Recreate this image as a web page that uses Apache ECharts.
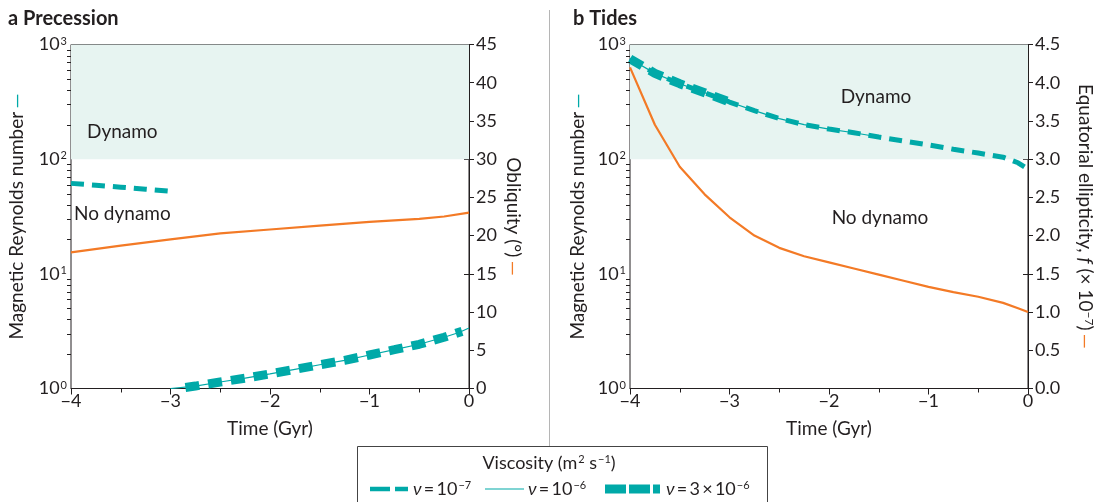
<!DOCTYPE html>
<html><head><meta charset="utf-8">
<script src="https://cdn.jsdelivr.net/npm/echarts@6/dist/echarts.min.js"></script>
<style>html,body{margin:0;padding:0;background:#fff}#c{width:1098px;height:502px}</style>
</head><body><div id="c"></div>
<script>
// ---- Panel a: Precession ----
const precTimeE7 = [-4, -3.75, -3.5, -3.25, -3.0];
const precRmE7 = [61.5, 59.3, 57, 54.7, 52.4];
const precTimeE6 = [-3.0, -2.75, -2.5, -2.25, -2.0, -1.75, -1.5, -1.25, -1.0, -0.75, -0.5, -0.25, -0.1, 0];
const precRmE6 = [1.0, 1.05, 1.14, 1.23, 1.34, 1.47, 1.61, 1.76, 1.96, 2.18, 2.43, 2.8, 3.08, 3.37];
const precTime3E6 = [-2.85, -2.75, -2.5, -2.25, -2.0, -1.75, -1.5, -1.25, -1.0, -0.75, -0.5, -0.25, -0.07];
const precRm3E6 = [1.02, 1.05, 1.14, 1.23, 1.34, 1.47, 1.61, 1.76, 1.96, 2.18, 2.43, 2.8, 3.15];
const precTimeObl = [-4, -3.5, -3, -2.5, -2, -1.5, -1, -0.5, -0.25, 0];
const precObliquity = [17.8, 18.7, 19.5, 20.3, 20.8, 21.3, 21.8, 22.2, 22.5, 23.0];

// ---- Panel b: Tides ----
const tideTimeE7 = [-4, -3.75, -3.5, -3.25, -3, -2.75, -2.5, -2.25, -2, -1.75, -1.5, -1.25, -1, -0.75, -0.5, -0.25, -0.1, 0];
const tideRmE7 = [750, 560, 455, 380, 315, 265, 226, 200, 183, 170, 156, 144, 133, 122, 113, 104, 93, 82];
const tideTimeE6 = [-4, -3.75, -3.5, -3.25, -3, -2.75, -2.5, -2.25, -2, -1.75, -1.5];
const tideRmE6 = [750, 560, 455, 380, 315, 265, 226, 200, 183, 170, 156];
const tideTime3E6 = [-4, -3.75, -3.5, -3.25, -3];
const tideRm3E6 = [750, 560, 455, 380, 315];
const tideTimeEll = [-4, -3.75, -3.5, -3.25, -3, -2.75, -2.5, -2.25, -2, -1.75, -1.5, -1.25, -1, -0.75, -0.5, -0.25, -0.1, 0];
const tideEllipticity = [4.2, 3.45, 2.9, 2.54, 2.24, 2.0, 1.84, 1.73, 1.65, 1.57, 1.49, 1.41, 1.33, 1.26, 1.2, 1.12, 1.05, 1.0];

// ---- axis ticks ----
const xTickMin = -4, xTickMax = 0, xTickStep = 1;
const logMinorTicks = [2,3,4,5,6,7,8,9,20,30,40,50,60,70,80,90,200,300,400,500,600,700,800,900];
const oblMax = 45, oblStep = 5;
const ellMax = 4.5, ellStep = 0.5;
const dynamoThreshold = 100, rmMax = 1000, rmMin = 1;

const teal = '#00a9a8', orange = '#f37a26', ink = '#231f20';
const FONT = 'Lato';
const zip = (a, b) => a.map((v, i) => [v, b[i]]);

const supRich = {
  n: {fontSize: 18, color: ink, fontFamily: FONT},
  s: {fontSize: 11, color: ink, fontFamily: FONT, padding: [0,0,7,1]}
};
const nameRich = (col) => ({
  n: {fontSize: 19, color: ink, fontFamily: FONT},
  i: {fontSize: 19, color: ink, fontFamily: FONT, fontStyle: 'italic'},
  s: {fontSize: 12, color: ink, fontFamily: FONT, padding: [0,0,8,0]},
  d: {fontSize: 19, color: col, fontFamily: FONT}
});

function xAxisDef(gi) {
  return {
    gridIndex: gi, type: 'value', min: xTickMin, max: xTickMax, interval: xTickStep,
    name: 'Time (Gyr)', nameLocation: 'middle', nameGap: 31,
    nameTextStyle: {fontSize: 19, color: ink, fontFamily: FONT},
    axisLine: {lineStyle: {color: ink, width: 1}},
    axisTick: {length: 6, lineStyle: {color: ink}},
    minorTick: {show: true, splitNumber: 2, length: 4, lineStyle: {color: ink}},
    splitLine: {show: false},
    axisLabel: {fontSize: 18, color: ink, fontFamily: FONT, margin: 4,
      formatter: v => (v < 0 ? '\u2212' + Math.abs(v) : String(v))}
  };
}
function logAxisDef(gi, gap) {
  return {
    gridIndex: gi, type: 'log', logBase: 10, min: rmMin, max: rmMax, position: 'left',
    name: '{n|Magnetic Reynolds number} {d|\u2014}', nameLocation: 'middle', nameGap: gap,
    nameTextStyle: {rich: nameRich(teal)},
    axisLine: {lineStyle: {color: ink}},
    axisTick: {length: 5, lineStyle: {color: ink}},
    splitLine: {show: false},
    axisLabel: {margin: 4, formatter: v => '{n|10}{s|' + Math.round(Math.log10(v)) + '}', rich: supRich}
  };
}
function minorTickSeries(xi, yi) {
  return {
    type: 'custom', xAxisIndex: xi, yAxisIndex: yi, clip: false, silent: true, z: 10,
    data: logMinorTicks.map(v => [xTickMin, v]),
    renderItem: (params, api) => {
      const p = api.coord([api.value(0), api.value(1)]);
      const y = Math.round(p[1]) + 0.5;
      return {type: 'line', shape: {x1: p[0] - 4, y1: y, x2: p[0], y2: y},
        style: {stroke: ink, lineWidth: 1}};
    }
  };
}
const labelText = (txt, x, y, align) => ({type: 'text', x: x, y: y, z: 100,
  style: {text: txt, font: '19px ' + FONT, fill: ink, textAlign: align, textVerticalAlign: 'middle'}});
const legRich = {v: {fontSize: 18, fontFamily: FONT, fontStyle: 'italic', fill: ink},
  n: {fontSize: 18, fontFamily: FONT, fill: ink},
  s: {fontSize: 11, fontFamily: FONT, fill: ink, padding: [0,0,8,1]}};

const option = {
  animation: false,
  grid: [
    {left: 71, top: 44.5, width: 398, height: 344, show: true, borderColor: ink, borderWidth: 1},
    {left: 630, top: 44.5, width: 398, height: 344, show: true, borderColor: ink, borderWidth: 1}
  ],
  xAxis: [xAxisDef(0), xAxisDef(1)],
  yAxis: [
    logAxisDef(0, 45),
    {gridIndex: 0, type: 'value', min: 0, max: oblMax, interval: oblStep, position: 'right',
      name: '{n|Obliquity (\u00b0)} {d|\u2014}', nameLocation: 'middle', nameGap: 35, nameRotate: -90,
      nameTextStyle: {rich: nameRich(orange)},
      axisLine: {lineStyle: {color: ink}}, axisTick: {length: 5, lineStyle: {color: ink}},
      splitLine: {show: false},
      axisLabel: {fontSize: 18, color: ink, fontFamily: FONT, margin: 7}},
    logAxisDef(1, 43),
    {gridIndex: 1, type: 'value', min: 0, max: ellMax, interval: ellStep, position: 'right',
      name: '{n|Equatorial ellipticity, }{i|f}{n| (\u00d7 10}{s|\u22127}{n|)} {d|\u2014}',
      nameLocation: 'middle', nameGap: 47, nameRotate: -90,
      nameTextStyle: {rich: nameRich(orange)},
      axisLine: {lineStyle: {color: ink}}, axisTick: {length: 5, lineStyle: {color: ink}},
      splitLine: {show: false},
      axisLabel: {fontSize: 18, color: ink, fontFamily: FONT, margin: 7, formatter: v => v.toFixed(1)}}
  ],
  series: [
    // panel a
    {type: 'line', xAxisIndex: 0, yAxisIndex: 0, data: zip(precTimeE7, precRmE7), showSymbol: false, z: 3,
      lineStyle: {color: teal, width: 5, type: [13, 8]},
      markArea: {silent: true, itemStyle: {color: '#e7f4f1'}, data: [[{yAxis: dynamoThreshold}, {yAxis: rmMax}]]}},
    {type: 'line', xAxisIndex: 0, yAxisIndex: 0, data: zip(precTimeE6, precRmE6), showSymbol: false, z: 3,
      lineStyle: {color: teal, width: 1.2}},
    {type: 'line', xAxisIndex: 0, yAxisIndex: 0, data: zip(precTime3E6, precRm3E6), showSymbol: false, z: 3,
      lineStyle: {color: teal, width: 9, type: [14, 9]}},
    {type: 'line', xAxisIndex: 0, yAxisIndex: 1, data: zip(precTimeObl, precObliquity), showSymbol: false, z: 3,
      lineStyle: {color: orange, width: 2.2}},
    minorTickSeries(0, 0),
    // panel b
    {type: 'line', xAxisIndex: 1, yAxisIndex: 2, data: zip(tideTimeE7, tideRmE7), showSymbol: false, z: 3,
      lineStyle: {color: teal, width: 5, type: [13, 8]},
      markArea: {silent: true, itemStyle: {color: '#e7f4f1'}, data: [[{yAxis: dynamoThreshold}, {yAxis: rmMax}]]}},
    {type: 'line', xAxisIndex: 1, yAxisIndex: 2, data: zip(tideTimeE6, tideRmE6), showSymbol: false, z: 3,
      lineStyle: {color: teal, width: 1.2}},
    {type: 'line', xAxisIndex: 1, yAxisIndex: 2, data: zip(tideTime3E6, tideRm3E6), showSymbol: false, z: 3,
      lineStyle: {color: teal, width: 9, type: [14, 9]}},
    {type: 'line', xAxisIndex: 1, yAxisIndex: 3, data: zip(tideTimeEll, tideEllipticity), showSymbol: false, z: 3,
      lineStyle: {color: orange, width: 2.2}},
    minorTickSeries(1, 2)
  ],
  graphic: [
    {type: 'text', left: 8, top: 9, z: 100, style: {text: 'a Precession', font: 'bold 20px ' + FONT, fill: ink}},
    {type: 'text', left: 573, top: 9, z: 100, style: {text: 'b Tides', font: 'bold 20px ' + FONT, fill: ink}},
    {type: 'line', z: 100, shape: {x1: 549.5, y1: 10, x2: 549.5, y2: 446}, style: {stroke: '#b5b5b5', lineWidth: 1}},
    labelText('Dynamo', 87, 132, 'left'),
    labelText('No dynamo', 74, 214, 'left'),
    labelText('Dynamo', 876, 97, 'center'),
    labelText('No dynamo', 880, 218, 'center'),
    // legend box
    {type: 'rect', z: 100, shape: {x: 357.5, y: 446.5, width: 410, height: 70}, style: {fill: '#fff', stroke: '#444', lineWidth: 1}},
    {type: 'text', z: 101, x: 549, y: 463, style: {text: '{n|Viscosity (m}{s|2}{n| s}{s|\u22121}{n|)}', textAlign: 'center', textVerticalAlign: 'middle', rich: legRich}},
    {type: 'line', z: 101, shape: {x1: 370, y1: 489, x2: 408, y2: 489}, style: {stroke: teal, lineWidth: 4.5, lineDash: [20, 5]}},
    {type: 'text', z: 101, x: 413, y: 489, style: {text: '{v|\u03bd}{n|\u2009=\u200910}{s|\u22127}', textVerticalAlign: 'middle', rich: legRich}},
    {type: 'line', z: 101, shape: {x1: 485, y1: 489, x2: 524, y2: 489}, style: {stroke: teal, lineWidth: 1.2}},
    {type: 'text', z: 101, x: 528, y: 489, style: {text: '{v|\u03bd}{n|\u2009=\u200910}{s|\u22126}', textVerticalAlign: 'middle', rich: legRich}},
    {type: 'line', z: 101, shape: {x1: 605, y1: 489, x2: 660, y2: 489}, style: {stroke: teal, lineWidth: 9, lineDash: [21, 3]}},
    {type: 'text', z: 101, x: 666, y: 489, style: {text: '{v|\u03bd}{n|\u2009=\u20093\u2009\u00d7\u200910}{s|\u22126}', textVerticalAlign: 'middle', rich: legRich}}
  ]
};
const chart = echarts.init(document.getElementById('c'), null, {renderer: 'canvas'});
chart.setOption(option);
</script></body></html>
